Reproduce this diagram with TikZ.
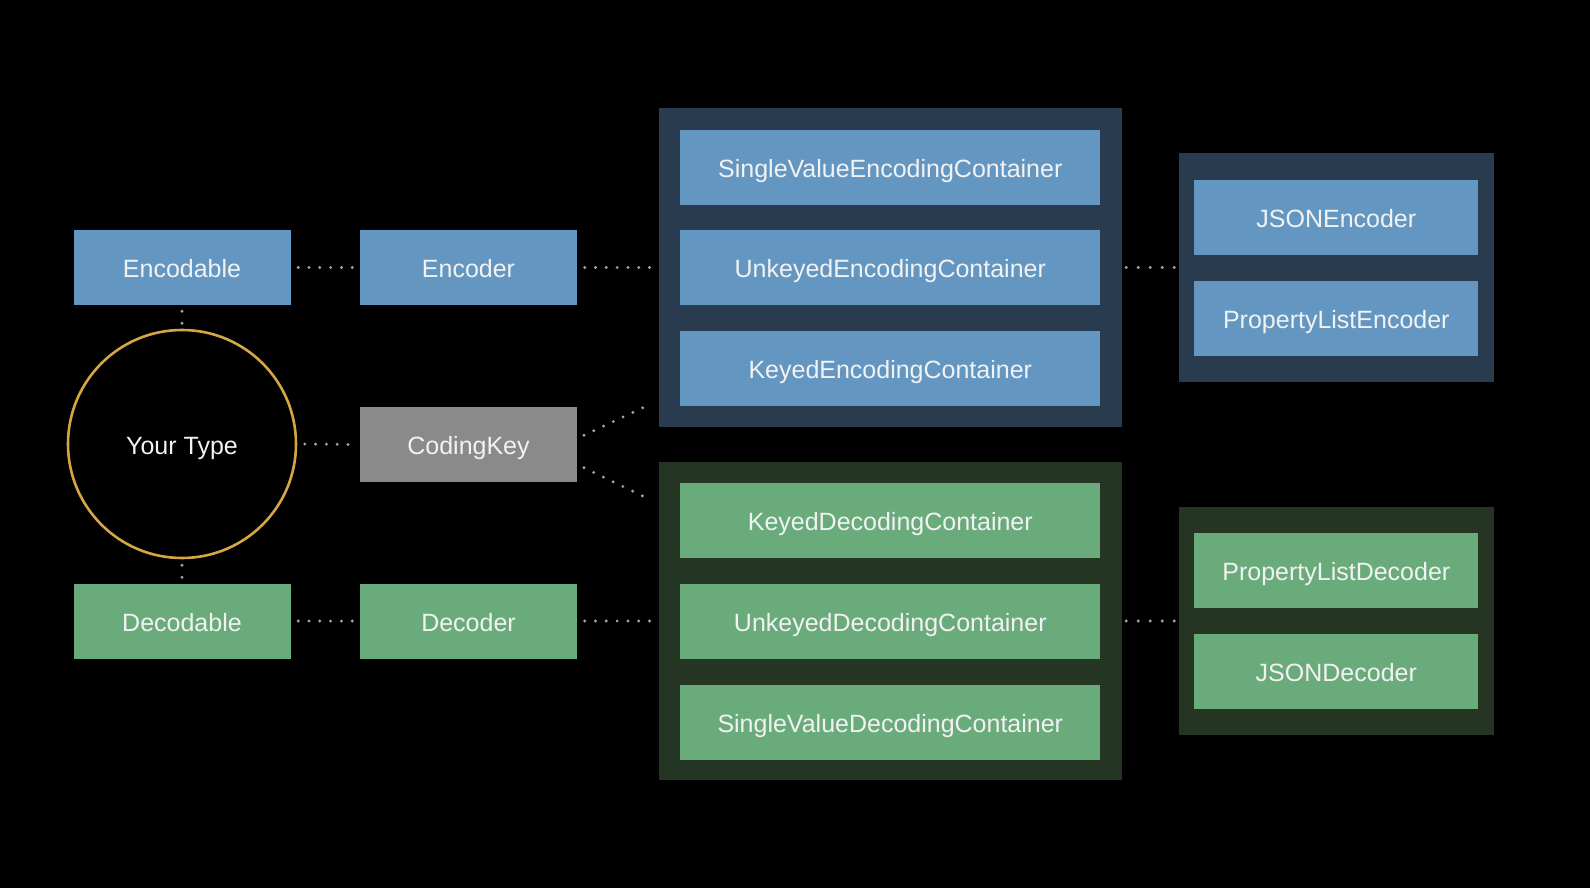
\documentclass[tikz,border=0pt]{standalone}
\usepackage{fontspec}
\setmainfont{Liberation Sans}
\usetikzlibrary{calc}
\definecolor{encblue}{HTML}{6397C2}
\definecolor{encdark}{HTML}{293C4F}
\definecolor{decgreen}{HTML}{6AAB7C}
\definecolor{decdark}{HTML}{243523}
\definecolor{keygray}{HTML}{8A8A8A}
\definecolor{ringgold}{HTML}{D6A645}
\definecolor{dotgray}{HTML}{A6A6A6}
\definecolor{txt}{HTML}{F2F2F2}
\begin{document}
\begin{tikzpicture}[x=1pt,y=-1pt,
  lbl/.style={inner sep=0pt, text=txt, font=\fontsize{25}{30}\selectfont, text height=20pt, text depth=0pt, align=center},
  bluebox/.style={lbl, rectangle, fill=encblue},
  greenbox/.style={lbl, rectangle, fill=decgreen},
  graybox/.style={lbl, rectangle, fill=keygray},
  smallbox/.style={minimum width=217pt, minimum height=75pt},
  widebox/.style={minimum width=420pt, minimum height=75pt},
  coderbox/.style={minimum width=284pt, minimum height=75pt},
  encgroup/.style={rectangle, inner sep=0pt, fill=encdark},
  decgroup/.style={rectangle, inner sep=0pt, fill=decdark},
  dots/.style={draw=dotgray, line width=3.2pt, line cap=round, dash pattern=on 0pt off 10.8pt, shorten <=7.5pt, shorten >=7.5pt},
  shortdots/.style={dots, dash pattern=on 0pt off 12pt, shorten <=4pt, shorten >=3pt},
  vdots/.style={draw=dotgray, line width=3.2pt, line cap=round, dash pattern=on 0pt off 12pt, shorten <=6pt, shorten >=5pt}
]
\fill[black] (0,0) rectangle (1590,888);
\useasboundingbox (0,0) rectangle (1590,888);

% group containers
\node[encgroup, minimum width=463pt, minimum height=318.5pt] (encC) at (890.5,267.25) {};
\node[decgroup, minimum width=463pt, minimum height=318pt] (decC) at (890.5,621) {};
\node[encgroup, minimum width=315pt, minimum height=228.6pt] (rEnc) at (1336.5,267.3) {};
\node[decgroup, minimum width=315pt, minimum height=228pt] (rDec) at (1336.5,621) {};

% left column
\node[bluebox, smallbox] (enc) at (182,267.5) {Encodable};
\node[lbl, circle, draw=ringgold, line width=2.6pt, minimum size=228pt] (yt) at (182,444) {Your Type};
\node[greenbox, smallbox] (dec) at (182,621) {Decodable};

% second column
\node[bluebox, smallbox] (encoder) at (468.5,267.5) {Encoder};
\node[graybox, smallbox] (ck) at (468.5,444.5) {CodingKey};
\node[greenbox, smallbox] (decoder) at (468.5,621) {Decoder};

% encoding containers
\node[bluebox, widebox] (sve) at (890.3,167.5) {SingleValueEncodingContainer};
\node[bluebox, widebox] (uke) at (890.3,267.5) {UnkeyedEncodingContainer};
\node[bluebox, widebox] (ke) at (890.3,368.5) {KeyedEncodingContainer};

% decoding containers
\node[greenbox, widebox] (kd) at (890.3,520.5) {KeyedDecodingContainer};
\node[greenbox, widebox] (ud) at (890.3,621) {UnkeyedDecodingContainer};
\node[greenbox, widebox] (svd) at (890.3,722) {SingleValueDecodingContainer};

% concrete coders
\node[bluebox, coderbox] (json) at (1336.3,217.3) {JSONEncoder};
\node[bluebox, coderbox] (plist) at (1336.3,318) {PropertyListEncoder};
\node[greenbox, coderbox] (plistd) at (1336.3,570.5) {PropertyListDecoder};
\node[greenbox, coderbox] (jsond) at (1336.3,671.5) {JSONDecoder};

% connectors
\draw[vdots] (enc.south) -- (yt.north);
\draw[vdots] (yt.south) -- (dec.north);
\draw[dots] (enc.east) -- (encoder.west);
\draw[dots] (dec.east) -- (decoder.west);
\draw[dots] (yt.east) -- (ck.west);
\draw[dots] (encoder.east) -- (encC.west |- encoder.east);
\draw[dots] (decoder.east) -- (decC.west |- decoder.east);
\draw[shortdots] (encC.east |- uke.east) -- (rEnc.west |- uke.east);
\draw[shortdots] (decC.east |- ud.east) -- (rDec.west |- ud.east);
\coordinate (ckup) at ($(ck.east)+(0,-6)$);
\coordinate (ckdown) at ($(ck.east)+(0,20)$);
\coordinate (encin) at ($(encC.south west)+(0,-26.5)$);
\coordinate (decin) at ($(decC.north west)+(0,42)$);
\draw[dots] (ckup) -- (encin);
\draw[dots] (ckdown) -- (decin);
\end{tikzpicture}
\end{document}
